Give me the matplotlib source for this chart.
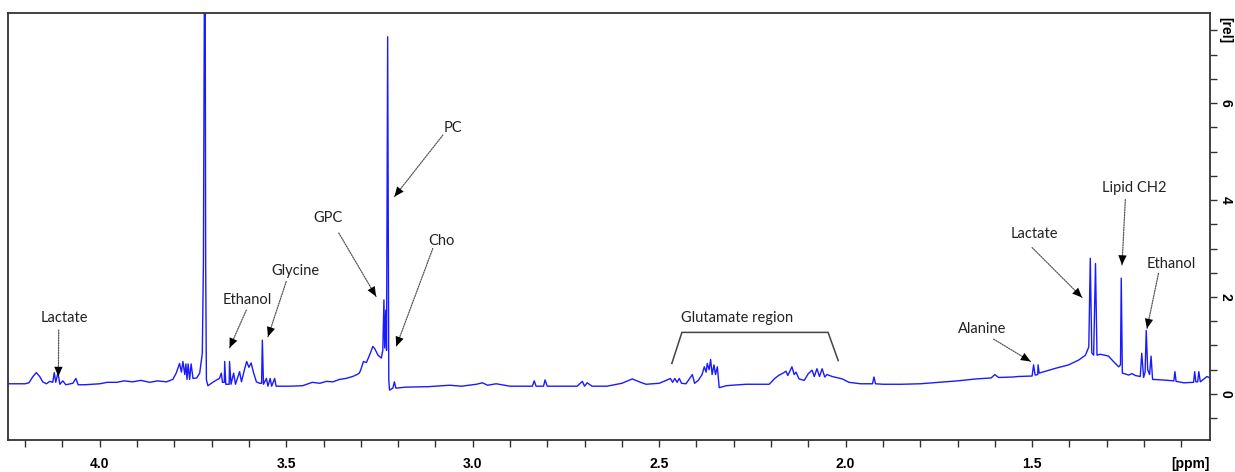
import matplotlib
matplotlib.use("Agg")
import matplotlib.pyplot as plt
import numpy as np

# spectrum trace (chemical shift in ppm, intensity in rel units)
ppm = [4.246, 4.200, 4.190, 4.179, 4.170, 4.161, 4.153, 4.143, 4.134, 4.126,
       4.122, 4.118, 4.112, 4.107, 4.099, 4.091, 4.072, 4.064, 4.058, 4.040,
       4.000, 3.980, 3.954, 3.935, 3.912, 3.890, 3.866, 3.845, 3.821, 3.804,
       3.795, 3.786, 3.781, 3.777, 3.772, 3.769, 3.766, 3.763, 3.759, 3.755,
       3.750, 3.740, 3.732, 3.725, 3.722, 3.720, 3.718, 3.716, 3.714, 3.710,
       3.697, 3.684, 3.679, 3.674, 3.671, 3.666, 3.665, 3.662, 3.653, 3.652,
       3.648, 3.641, 3.636, 3.625, 3.620, 3.612, 3.606, 3.600, 3.594, 3.588,
       3.580, 3.571, 3.566, 3.564, 3.561, 3.553, 3.549, 3.543, 3.539, 3.531,
       3.527, 3.490, 3.456, 3.430, 3.410, 3.392, 3.375, 3.357, 3.340, 3.322,
       3.310, 3.304, 3.300, 3.293, 3.285, 3.281, 3.274, 3.268, 3.263, 3.254,
       3.245, 3.241, 3.238, 3.236, 3.233, 3.231, 3.228, 3.225, 3.223, 3.214,
       3.210, 3.206, 3.180, 3.120, 3.062, 3.030, 2.990, 2.974, 2.960, 2.937,
       2.900, 2.840, 2.835, 2.830, 2.810, 2.806, 2.800, 2.720, 2.706, 2.700,
       2.693, 2.680, 2.640, 2.600, 2.572, 2.550, 2.535, 2.500, 2.481, 2.470,
       2.464, 2.458, 2.452, 2.446, 2.440, 2.428, 2.411, 2.405, 2.395, 2.385,
       2.379, 2.374, 2.371, 2.366, 2.362, 2.358, 2.353, 2.349, 2.344, 2.339,
       2.320, 2.304, 2.267, 2.205, 2.190, 2.180, 2.170, 2.160, 2.155, 2.144,
       2.138, 2.133, 2.125, 2.111, 2.100, 2.090, 2.084, 2.077, 2.070, 2.063,
       2.056, 2.050, 2.036, 2.020, 2.009, 1.991, 1.960, 1.928, 1.924, 1.920,
       1.900, 1.850, 1.800, 1.750, 1.700, 1.650, 1.610, 1.600, 1.590, 1.550,
       1.538, 1.500, 1.496, 1.492, 1.485, 1.484, 1.481, 1.455, 1.437, 1.402,
       1.375, 1.357, 1.348, 1.344, 1.340, 1.335, 1.330, 1.326, 1.317, 1.295,
       1.282, 1.268, 1.263, 1.261, 1.258, 1.241, 1.232, 1.223, 1.210, 1.206,
       1.201, 1.197, 1.194, 1.190, 1.185, 1.181, 1.177, 1.152, 1.120, 1.117,
       1.114, 1.093, 1.067, 1.064, 1.061, 1.056, 1.053, 1.049, 1.031, 1.023]
rel = [0.21, 0.21, 0.23, 0.36, 0.44, 0.36, 0.25, 0.21, 0.26, 0.24,
       0.44, 0.24, 0.44, 0.20, 0.27, 0.19, 0.22, 0.32, 0.19, 0.19,
       0.21, 0.24, 0.24, 0.27, 0.25, 0.28, 0.24, 0.27, 0.25, 0.30,
       0.43, 0.63, 0.45, 0.67, 0.40, 0.62, 0.30, 0.62, 0.30, 0.62,
       0.32, 0.33, 0.43, 0.84, 2.70, 6.90, 12.0, 2.70, 0.29, 0.17,
       0.24, 0.30, 0.32, 0.43, 0.24, 0.24, 0.67, 0.20, 0.20, 0.67,
       0.20, 0.43, 0.20, 0.46, 0.25, 0.50, 0.67, 0.55, 0.64, 0.45,
       0.25, 0.22, 0.22, 1.11, 0.20, 0.32, 0.16, 0.32, 0.16, 0.32,
       0.16, 0.16, 0.17, 0.24, 0.22, 0.26, 0.25, 0.30, 0.32, 0.36,
       0.40, 0.43, 0.50, 0.67, 0.65, 0.72, 0.85, 0.98, 0.94, 0.80,
       0.74, 0.90, 1.94, 0.95, 1.73, 0.90, 7.37, 0.30, 0.08, 0.12,
       0.25, 0.12, 0.14, 0.15, 0.18, 0.16, 0.20, 0.23, 0.18, 0.21,
       0.16, 0.16, 0.27, 0.16, 0.16, 0.29, 0.16, 0.16, 0.26, 0.16,
       0.23, 0.16, 0.16, 0.22, 0.31, 0.24, 0.20, 0.22, 0.28, 0.32,
       0.24, 0.32, 0.24, 0.32, 0.22, 0.21, 0.40, 0.22, 0.28, 0.40,
       0.56, 0.45, 0.63, 0.50, 0.71, 0.40, 0.60, 0.40, 0.56, 0.13,
       0.17, 0.18, 0.20, 0.20, 0.32, 0.38, 0.42, 0.47, 0.38, 0.56,
       0.40, 0.45, 0.31, 0.28, 0.42, 0.49, 0.36, 0.52, 0.36, 0.52,
       0.35, 0.40, 0.36, 0.33, 0.31, 0.24, 0.21, 0.21, 0.35, 0.21,
       0.20, 0.20, 0.21, 0.24, 0.27, 0.31, 0.33, 0.40, 0.34, 0.35,
       0.36, 0.37, 0.60, 0.39, 0.40, 0.60, 0.43, 0.49, 0.53, 0.60,
       0.70, 0.80, 0.97, 2.80, 0.85, 0.80, 2.69, 0.80, 0.82, 0.78,
       0.67, 0.56, 0.60, 2.39, 0.43, 0.39, 0.42, 0.38, 0.36, 0.84,
       0.34, 0.45, 1.31, 0.50, 0.40, 0.78, 0.30, 0.29, 0.27, 0.46,
       0.26, 0.23, 0.24, 0.46, 0.25, 0.25, 0.46, 0.25, 0.36, 0.33]

x_ticks = np.round(np.arange(1.1, 4.25, 0.1), 1)
x_labelled = [4.0, 3.5, 3.0, 2.5, 2.0, 1.5]
y_ticks = np.arange(-0.5, 7.6, 0.5)
y_labelled = {0.0: "0", 2.0: "2", 4.0: "4", 6.0: "6", 7.5: "[rel]"}

# label text, text centre, arrow tail, arrow head
labels = [
    ("Lactate",   (4.094, 1.57), (4.110, 1.32), (4.111, 0.36)),
    ("Ethanol",   (3.604, 1.94), (3.607, 1.73), (3.652, 0.95)),
    ("Glycine",   (3.475, 2.54), (3.500, 2.32), (3.549, 1.18)),
    ("GPC",       (3.389, 3.63), (3.359, 3.32), (3.259, 2.01)),
    ("PC",        (3.054, 5.48), (3.080, 5.34), (3.210, 4.07)),
    ("Cho",       (3.085, 3.16), (3.107, 3.00), (3.205, 0.98)),
    ("Alanine",   (1.635, 1.35), (1.603, 1.13), (1.504, 0.67)),
    ("Lactate",   (1.495, 3.31), (1.500, 3.02), (1.366, 1.99)),
    ("Lipid CH2", (1.225, 4.25), (1.250, 4.01), (1.259, 2.66)),
    ("Ethanol",   (1.126, 2.69), (1.161, 2.49), (1.192, 1.35)),
]
glu_bracket_x = [2.466, 2.439, 2.047, 2.020]
glu_bracket_y = [0.63, 1.27, 1.27, 0.69]

fig = plt.figure(figsize=(12.35, 4.72), dpi=100)
ax = fig.add_axes([8 / 1235, 32 / 472, 1202 / 1235, 427 / 472])

ax.plot(ppm, rel, color="#1a1aff", lw=1.0)
ax.set_xlim(4.246, 1.023)
ax.set_ylim(-0.95, 7.86)

for s in ax.spines.values():
    s.set_color("#333333")
    s.set_linewidth(1.3)

tick_font = dict(family="Liberation Sans", weight="bold", size=10)
ax.set_xticks(x_ticks)
ax.set_xticklabels(["%.1f" % t if t in x_labelled else "" for t in x_ticks], **tick_font)
ax.yaxis.tick_right()
ax.set_yticks(y_ticks)
ax.set_yticklabels([y_labelled.get(round(t, 1), "") for t in y_ticks],
                   rotation=-90, va="center", **tick_font)
ax.tick_params(axis="both", direction="out", length=5, width=1, color="#333333")
ax.tick_params(axis="x", pad=7)
ax.tick_params(axis="y", pad=1)
ax.text(1.075, -1.44, "[ppm]", ha="center", va="center", **tick_font)

for text, pos, tail, head in labels:
    ax.text(pos[0], pos[1], text, ha="center", va="center",
            family="Lato", size=10.5, color="#222222")
    ax.annotate("", xy=head, xytext=tail,
                arrowprops=dict(arrowstyle="-", ls=(0, (1, 1)), color="#555555",
                                lw=0.9, shrinkA=0, shrinkB=0))
    ax.annotate("", xy=head, xytext=tail,
                arrowprops=dict(arrowstyle="-|>,head_length=0.7,head_width=0.3",
                                color="black", lw=0, shrinkA=0, shrinkB=0))

ax.plot(glu_bracket_x, glu_bracket_y, color="#444444", lw=1.1)
ax.text(2.292, 1.57, "Glutamate region", ha="center", va="center",
        family="Lato", size=10.5, color="#222222")

fig.savefig("out.png", dpi=100)
